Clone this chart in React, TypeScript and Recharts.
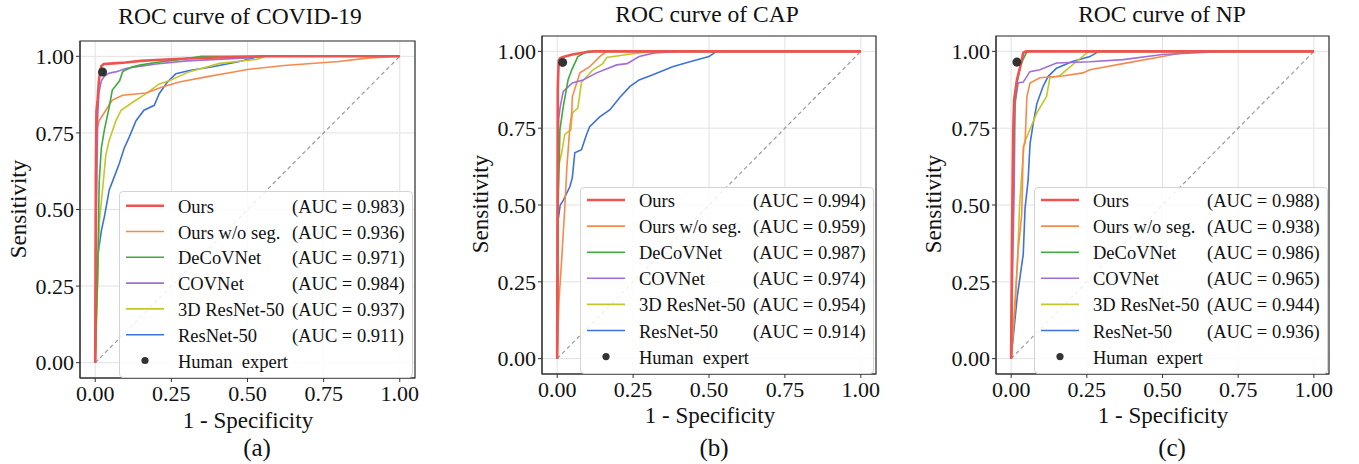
import React from "react";
import {
  ComposedChart,
  Line,
  Scatter,
  XAxis,
  YAxis,
  CartesianGrid,
  ReferenceArea,
} from "recharts";

const FONT = "'Liberation Serif', 'Times New Roman', serif";

const NAMES = ["Ours", "Ours w/o seg.", "DeCoVNet", "COVNet", "3D ResNet-50", "ResNet-50"];
const COLORS = ["#ef5350", "#f58a4c", "#3dab3d", "#a06fd6", "#c6c62a", "#3d72d8"];
const WIDTHS = [2.6, 1.6, 1.6, 1.6, 1.6, 1.6];
const TICKS = [0, 0.25, 0.5, 0.75, 1];

// (a) COVID-19
const covidOurs = [[0, 0], [0.002, 0.6], [0.004, 0.82], [0.008, 0.86], [0.012, 0.92], [0.016, 0.95], [0.02, 0.968], [0.028, 0.975], [0.06, 0.977], [0.1, 0.98], [0.15, 0.985], [0.2, 0.988], [0.3, 0.993], [0.4, 0.996], [0.55, 1], [1, 1]];
const covidNoSeg = [[0, 0], [0.003, 0.75], [0.013, 0.79], [0.035, 0.824], [0.056, 0.857], [0.09, 0.873], [0.167, 0.88], [0.22, 0.9], [0.276, 0.916], [0.364, 0.933], [0.45, 0.948], [0.5, 0.957], [0.62, 0.97], [0.8, 0.983], [0.9, 0.995], [1, 1]];
const covidDeCoV = [[0, 0], [0.004, 0.15], [0.008, 0.28], [0.013, 0.59], [0.02, 0.7], [0.03, 0.76], [0.045, 0.83], [0.056, 0.89], [0.08, 0.92], [0.09, 0.95], [0.12, 0.965], [0.15, 0.972], [0.2, 0.98], [0.28, 0.99], [0.35, 1], [1, 1]];
const covidCOV = [[0, 0], [0.004, 0.5], [0.008, 0.8], [0.012, 0.88], [0.02, 0.92], [0.03, 0.935], [0.045, 0.945], [0.07, 0.95], [0.1, 0.96], [0.15, 0.968], [0.2, 0.975], [0.3, 0.985], [0.4, 0.99], [0.5, 0.995], [0.56, 1], [1, 1]];
const covid3D = [[0, 0], [0.006, 0.2], [0.013, 0.456], [0.024, 0.564], [0.035, 0.68], [0.046, 0.726], [0.068, 0.79], [0.085, 0.824], [0.123, 0.85], [0.167, 0.878], [0.21, 0.91], [0.243, 0.92], [0.31, 0.95], [0.408, 0.977], [0.53, 0.99], [0.56, 1], [1, 1]];
const covidRes = [[0, 0], [0.003, 0.26], [0.01, 0.36], [0.02, 0.43], [0.03, 0.476], [0.046, 0.564], [0.06, 0.6], [0.079, 0.65], [0.095, 0.7], [0.112, 0.737], [0.134, 0.79], [0.16, 0.824], [0.194, 0.84], [0.21, 0.878], [0.237, 0.916], [0.265, 0.943], [0.31, 0.954], [0.385, 0.966], [0.47, 0.982], [0.54, 1], [1, 1]];
const covidExpert = [0.024, 0.949];
const covidAuc = ["0.983", "0.936", "0.971", "0.984", "0.937", "0.911"];

// (b) CAP
const capOurs = [[0, 0], [0.002, 0.88], [0.005, 0.97], [0.01, 0.978], [0.02, 0.982], [0.05, 0.99], [0.1, 0.998], [0.12, 1], [1, 1]];
const capNoSeg = [[0, 0], [0.003, 0.1], [0.006, 0.19], [0.014, 0.31], [0.025, 0.49], [0.032, 0.625], [0.042, 0.755], [0.048, 0.8], [0.05, 0.853], [0.075, 0.93], [0.107, 0.95], [0.14, 0.983], [0.163, 1], [1, 1]];
const capDeCoV = [[0, 0], [0.003, 0.5], [0.006, 0.61], [0.009, 0.745], [0.02, 0.82], [0.036, 0.908], [0.048, 0.94], [0.068, 0.983], [0.1, 1], [1, 1]];
const capCOV = [[0, 0], [0.002, 0.5], [0.005, 0.78], [0.01, 0.82], [0.02, 0.87], [0.05, 0.897], [0.085, 0.907], [0.13, 0.93], [0.196, 0.956], [0.23, 0.96], [0.27, 0.983], [0.32, 0.995], [0.4, 1], [1, 1]];
const cap3D = [[0, 0], [0.002, 0.6], [0.008, 0.64], [0.015, 0.67], [0.025, 0.73], [0.045, 0.745], [0.05, 0.8], [0.068, 0.815], [0.08, 0.9], [0.118, 0.94], [0.15, 0.96], [0.163, 0.98], [0.23, 0.99], [0.31, 1], [1, 1]];
const capRes = [[0, 0], [0.003, 0.45], [0.01, 0.5], [0.02, 0.515], [0.042, 0.56], [0.05, 0.59], [0.058, 0.67], [0.08, 0.68], [0.097, 0.73], [0.107, 0.755], [0.14, 0.787], [0.174, 0.81], [0.206, 0.85], [0.24, 0.886], [0.27, 0.907], [0.315, 0.924], [0.38, 0.95], [0.437, 0.966], [0.5, 0.983], [0.525, 1], [1, 1]];
const capExpert = [0.018, 0.964];
const capAuc = ["0.994", "0.959", "0.987", "0.974", "0.954", "0.914"];

// (c) NP
const npOurs = [[0, 0], [0.003, 0.4], [0.007, 0.744], [0.01, 0.842], [0.019, 0.907], [0.03, 0.95], [0.04, 0.995], [0.049, 1], [1, 1]];
const npNoSeg = [[0, 0], [0.013, 0.17], [0.023, 0.35], [0.035, 0.47], [0.04, 0.69], [0.046, 0.7], [0.052, 0.853], [0.0625, 0.897], [0.095, 0.914], [0.17, 0.92], [0.237, 0.93], [0.26, 0.94], [0.37, 0.96], [0.5, 0.983], [0.59, 1], [1, 1]];
const npDeCoV = [[0, 0], [0.005, 0.5], [0.012, 0.83], [0.02, 0.9], [0.03, 0.95], [0.04, 0.975], [0.05, 0.995], [0.06, 1], [1, 1]];
const npCOV = [[0, 0], [0.005, 0.3], [0.01, 0.55], [0.013, 0.83], [0.023, 0.897], [0.04, 0.9], [0.062, 0.934], [0.095, 0.94], [0.15, 0.962], [0.26, 0.966], [0.37, 0.973], [0.5, 0.99], [0.7, 1], [1, 1]];
const np3D = [[0, 0], [0.01, 0.15], [0.02, 0.3], [0.028, 0.5], [0.035, 0.6], [0.043, 0.7], [0.068, 0.76], [0.085, 0.8], [0.117, 0.853], [0.128, 0.914], [0.16, 0.92], [0.183, 0.94], [0.216, 0.967], [0.25, 0.995], [0.26, 1], [1, 1]];
const npRes = [[0, 0], [0.005, 0.05], [0.02, 0.2], [0.04, 0.34], [0.046, 0.49], [0.056, 0.58], [0.0625, 0.7], [0.073, 0.766], [0.085, 0.83], [0.105, 0.885], [0.122, 0.918], [0.15, 0.945], [0.2, 0.966], [0.26, 0.983], [0.29, 1], [1, 1]];
const npExpert = [0.019, 0.965];
const npAuc = ["0.988", "0.938", "0.986", "0.965", "0.944", "0.936"];

const chance = [[0, 0], [1, 1]];

const toPts = (arr: number[][]) => arr.map(([x, y]) => ({ x, y }));

// draw order: bottom to top (indices into NAMES)
const DRAW_ORDER = [5, 4, 1, 3, 2, 0];

type PanelProps = {
  left: number;
  width: number;
  plot: { l: number; t: number; r: number; b: number };
  series: number[][][];
  expert: number[];
  auc: string[];
  title: string;
  caption: string;
  titleAt: number[];
  xLabelAt: number[];
  yLabelAt: number[];
  captionAt: number[];
  legend: { l: number; t: number; w: number; h: number; row0: number; step: number };
};

const Txt = ({ x, y, size, children, rotate }: any) => (
  <div
    style={{
      position: "absolute",
      left: x,
      top: y,
      transform: `translate(-50%, -50%)${rotate ? " rotate(-90deg)" : ""}`,
      fontFamily: FONT,
      fontSize: size,
      lineHeight: 1,
      color: "#111",
      whiteSpace: "nowrap",
    }}
  >
    {children}
  </div>
);

const LegendBox = ({ legend, auc }: { legend: PanelProps["legend"]; auc: string[] }) => {
  const rowY = (i: number) => legend.row0 + i * legend.step;
  const label: React.CSSProperties = {
    position: "absolute",
    transform: "translateY(-50%)",
    fontFamily: FONT,
    fontSize: 18.5,
    lineHeight: 1,
    color: "#111",
    whiteSpace: "nowrap",
  };
  return (
    <div
      style={{
        position: "absolute",
        left: legend.l,
        top: legend.t,
        width: legend.w,
        height: legend.h,
        boxSizing: "border-box",
        border: "1px solid #d4d4d4",
        borderRadius: 4,
        background: "rgba(255,255,255,0.85)",
      }}
    >
      <svg
        width={legend.w}
        height={legend.h}
        style={{ position: "absolute", left: -1, top: -1 }}
      >
        {NAMES.map((name, i) => (
          <line
            key={name}
            x1={7}
            x2={45}
            y1={rowY(i)}
            y2={rowY(i)}
            stroke={COLORS[i]}
            strokeWidth={WIDTHS[i]}
          />
        ))}
        <circle cx={26} cy={rowY(6)} r={3.6} fill="#333" />
      </svg>
      {NAMES.map((name, i) => (
        <React.Fragment key={name}>
          <span style={{ ...label, left: 58, top: rowY(i) }}>{name}</span>
          <span style={{ ...label, left: 172, top: rowY(i) }}>(AUC = {auc[i]})</span>
        </React.Fragment>
      ))}
      <span style={{ ...label, left: 58, top: rowY(6) }}>Human&nbsp; expert</span>
    </div>
  );
};

const Panel = (p: PanelProps) => {
  const axisTick = { fontFamily: FONT, fontSize: 22, fill: "#111" };
  const fmt = (v: number) => v.toFixed(2);
  return (
    <>
      <div style={{ position: "absolute", left: p.left, top: 0 }}>
        <ComposedChart
          width={p.width}
          height={464}
          margin={{ top: p.plot.t, left: 0, right: p.left + p.width - p.plot.r, bottom: 464 - p.plot.b - 30 }}
        >
          <CartesianGrid stroke="#e2e2e2" strokeWidth={1} />
          <XAxis
            type="number"
            dataKey="x"
            domain={[-0.05, 1.05]}
            ticks={TICKS}
            tickFormatter={fmt}
            allowDataOverflow
            height={30}
            tickSize={4}
            tickMargin={3}
            tick={axisTick}
            stroke="#333"
          />
          <YAxis
            type="number"
            dataKey="y"
            domain={[-0.05, 1.05]}
            ticks={TICKS}
            tickFormatter={fmt}
            allowDataOverflow
            width={p.plot.l - p.left}
            tickSize={4}
            tickMargin={2}
            tick={axisTick}
            stroke="#333"
          />
          <Line
            data={toPts(chance)}
            dataKey="y"
            stroke="#9a9a9a"
            strokeWidth={1.2}
            strokeDasharray="4 3"
            dot={false}
            activeDot={false}
            isAnimationActive={false}
          />
          {DRAW_ORDER.map((i) => (
            <Line
              key={NAMES[i]}
              data={toPts(p.series[i])}
              dataKey="y"
              name={NAMES[i]}
              stroke={COLORS[i]}
              strokeWidth={WIDTHS[i]}
              dot={false}
              activeDot={false}
              isAnimationActive={false}
            />
          ))}
          <Scatter
            data={toPts([p.expert])}
            dataKey="y"
            fill="#333"
            isAnimationActive={false}
          />
          <ReferenceArea
            x1={-0.05}
            x2={1.05}
            y1={-0.05}
            y2={1.05}
            fill="none"
            stroke="#333"
            strokeWidth={1.2}
            ifOverflow="visible"
          />
        </ComposedChart>
      </div>
      <LegendBox legend={p.legend} auc={p.auc} />
      <Txt x={p.titleAt[0]} y={p.titleAt[1]} size={23.5}>{p.title}</Txt>
      <Txt x={p.xLabelAt[0]} y={p.xLabelAt[1]} size={23}>1 - Specificity</Txt>
      <Txt x={p.yLabelAt[0]} y={p.yLabelAt[1]} size={23} rotate>Sensitivity</Txt>
      <Txt x={p.captionAt[0]} y={p.captionAt[1]} size={25}>{p.caption}</Txt>
    </>
  );
};

export default function App() {
  return (
    <div style={{ position: "absolute", left: 0, top: 0, width: 1359, height: 464, background: "#fff", overflow: "hidden" }}>
      <Panel
        left={0}
        width={450}
        plot={{ l: 80, t: 41, r: 415, b: 378 }}
        series={[covidOurs, covidNoSeg, covidDeCoV, covidCOV, covid3D, covidRes]}
        expert={covidExpert}
        auc={covidAuc}
        title="ROC curve of COVID-19"
        caption="(a)"
        titleAt={[240, 17]}
        xLabelAt={[248, 420]}
        yLabelAt={[17.5, 209]}
        captionAt={[257, 447]}
        legend={{ l: 119, t: 191, w: 294, h: 187, row0: 14.7, step: 25.8 }}
      />
      <Panel
        left={450}
        width={450}
        plot={{ l: 542, t: 36, r: 876, b: 374 }}
        series={[capOurs, capNoSeg, capDeCoV, capCOV, cap3D, capRes]}
        expert={capExpert}
        auc={capAuc}
        title="ROC curve of CAP"
        caption="(b)"
        titleAt={[707, 15]}
        xLabelAt={[710, 415]}
        yLabelAt={[480, 204]}
        captionAt={[714, 447]}
        legend={{ l: 580, t: 187, w: 294, h: 187, row0: 13, step: 26.1 }}
      />
      <Panel
        left={900}
        width={459}
        plot={{ l: 996, t: 36, r: 1329, b: 374 }}
        series={[npOurs, npNoSeg, npDeCoV, npCOV, np3D, npRes]}
        expert={npExpert}
        auc={npAuc}
        title="ROC curve of NP"
        caption="(c)"
        titleAt={[1162, 15]}
        xLabelAt={[1163, 415]}
        yLabelAt={[933, 204]}
        captionAt={[1172, 447]}
        legend={{ l: 1034, t: 187, w: 294, h: 187, row0: 13, step: 26.1 }}
      />
    </div>
  );
}
